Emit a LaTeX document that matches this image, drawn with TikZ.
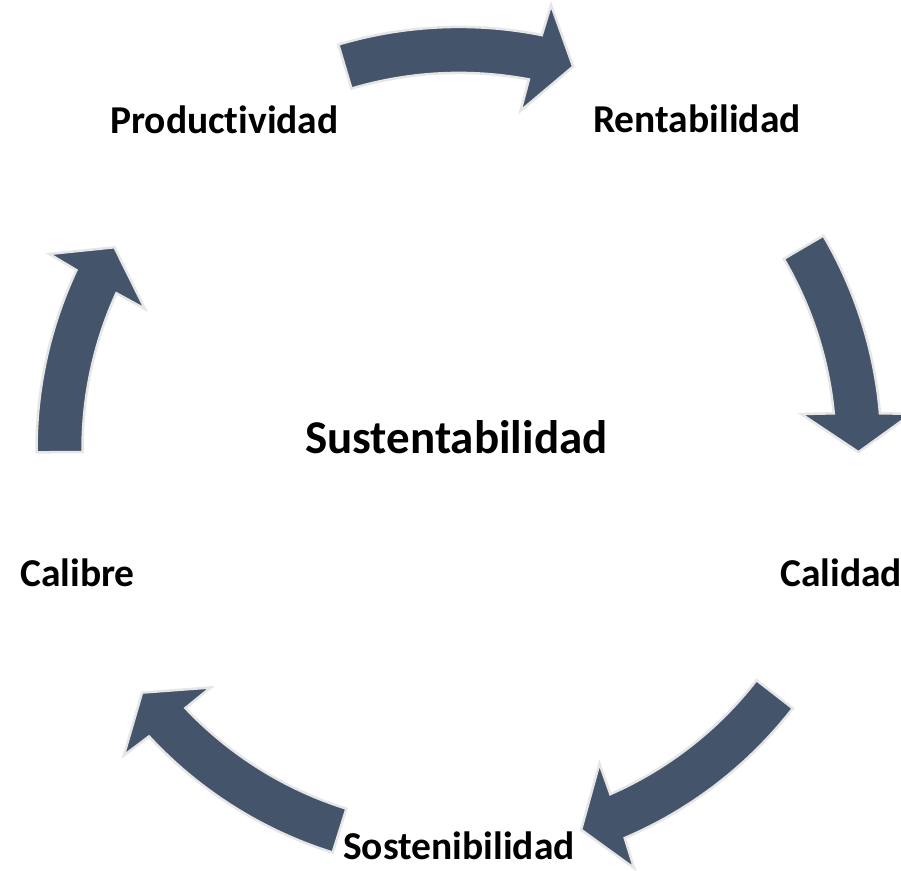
\documentclass[tikz,border=0pt]{standalone}
\usepackage{fontspec}
\setmainfont{Carlito}[Ligatures=NoCommon]
\definecolor{pizarra}{HTML}{44546A}
\definecolor{borde}{HTML}{E6E6E6}
\tikzset{
  flecha/.style={fill=pizarra, draw=borde, line width=2.5pt, line join=miter},
  etiqueta/.style={anchor=base west, inner sep=0pt, font=\fontsize{39.5}{47}\selectfont\bfseries},
  titulo/.style={anchor=base west, inner sep=0pt, font=\fontsize{47}{56}\selectfont\bfseries},
}

\begin{document}
\begin{tikzpicture}[x=1pt, y=1pt]
        \useasboundingbox (0,0) rectangle (901,870);
        \coordinate (hub) at (459,420.6);

        % Flechas curvas del ciclo (angulo de cola / angulo de punta)
        \foreach \cola/\punta in {106.6/73.4, 30.4/-0.4, -37.8/-72.2, -107.4/-142.5, 180.4/149.6}{
            \pgfmathsetmacro{\bext}{\punta+5.3}
            \pgfmathsetmacro{\bint}{\punta+5.9}
            \pgfmathsetmacro{\pext}{\punta+4.9}
            \pgfmathsetmacro{\pint}{\punta+6.3}
            \draw[flecha, shift={(hub)}] (\cola:422.5) arc[start angle=\cola, end angle=\bext, radius=422.5]
                -- (\pext:454) -- (\punta:399.5) -- (\pint:344) -- (\bint:376.5)
                arc[start angle=\bint, end angle=\cola, radius=376.5] -- cycle;
        }

        % Etiquetas
        \node[etiqueta] (productividad) at (110,736.7) {Productividad};
        \node[etiqueta] (rentabilidad) at (593,737.3) {Rentabilidad};
        \node[etiqueta] (calidad) at (780,283) {Calidad};
        \node[etiqueta] (calibre) at (20,283) {Calibre};
        \node[etiqueta] (sostenibilidad) at (343,11) {Sostenibilidad};

        % Centro
        \node[titulo] (sustentabilidad) at (305,416.7) {Sustentabilidad};
    \end{tikzpicture}
\end{document}
